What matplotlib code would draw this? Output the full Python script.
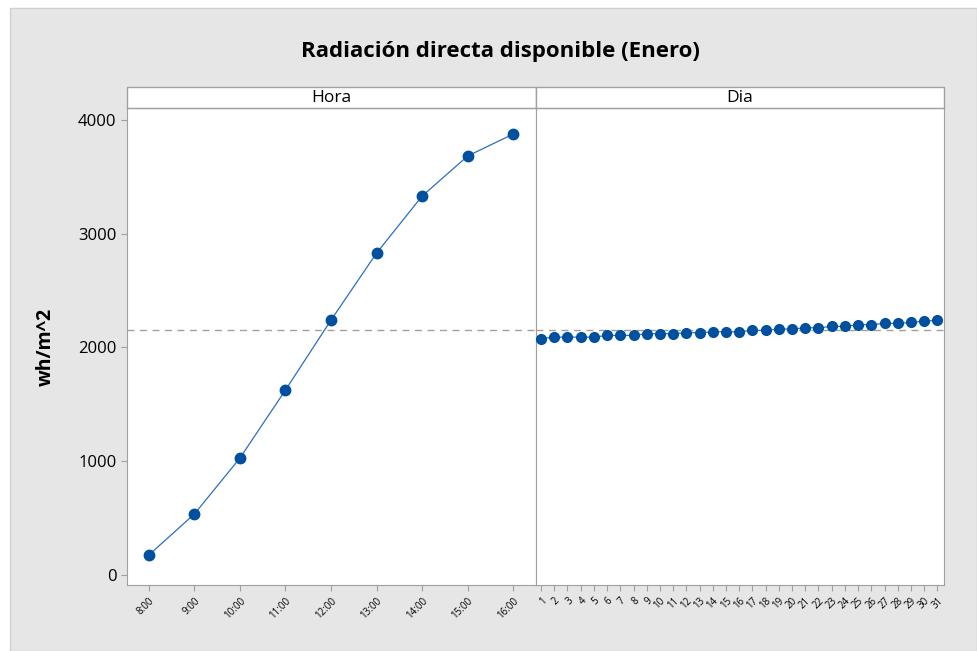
import numpy as np
import matplotlib.pyplot as plt
from matplotlib.patches import Rectangle

plt.rcParams['font.family'] = ['Open Sans', 'DejaVu Sans']

hours = ['8:00', '9:00', '10:00', '11:00', '12:00', '13:00', '14:00', '15:00', '16:00']
hora_vals = [176, 536, 1028, 1626, 2241, 2830, 3331, 3683, 3876]
days = [str(d) for d in range(1, 32)]
dia_vals = [2077, 2091, 2091, 2091, 2091, 2106, 2106, 2106, 2121, 2121, 2121,
            2130, 2130, 2138, 2138, 2138, 2150, 2150, 2162, 2162, 2173, 2173,
            2185, 2185, 2200, 2200, 2212, 2212, 2220, 2232, 2238]
grand_mean = 2153
yticks = [0, 1000, 2000, 3000, 4000]

blue = '#0050a0'
gray_bg = '#e6e6e6'
spine_c = '#a0a0a0'

W, H = 977, 651
fig = plt.figure(figsize=(W / 100, H / 100), dpi=100)
fig.patch.set_facecolor('white')
fig.patches.append(Rectangle((10 / W, 0), 1 - 10 / W, 1 - 8 / H, transform=fig.transFigure,
                             facecolor=gray_bg, edgecolor='#d0d0d0', lw=1, zorder=-10))

def px(x0, y0, x1, y1):
    return [x0 / W, 1 - y1 / H, (x1 - x0) / W, (y1 - y0) / H]

ax1 = fig.add_axes(px(127, 108, 536, 585))
ax2 = fig.add_axes(px(536, 108, 944, 585), sharey=ax1)

panels = [(ax1, hours, hora_vals, 'Hora', (0.52, 9.5), 7.5),
          (ax2, days, dia_vals, 'Dia', (0.62, 31.5), 7)]

for ax, labels, vals, name, xl, ms in panels:
    x = np.arange(1, len(labels) + 1)
    ax.plot(x, vals, '-', color='#2a6fc0', lw=0.9, zorder=2)
    ax.plot(x, vals, 'o', color=blue, ms=ms, zorder=3)
    ax.axhline(grand_mean, color='#a0a0a0', ls=(0, (5, 4)), lw=1, zorder=1)
    ax.set_xlim(*xl)
    ax.set_xticks(x)
    ax.set_xticklabels(labels, rotation=45, ha='right', rotation_mode='anchor', fontsize=7)
    for s in ax.spines.values():
        s.set_color(spine_c)
    ax.tick_params(colors=spine_c, labelcolor='black', length=4)
    # strip header
    ax.add_patch(Rectangle((0, 1), 1, 21 / 477, transform=ax.transAxes, clip_on=False,
                           facecolor='white', edgecolor=spine_c, lw=1))
    ax.text(0.5, 1 + 10.5 / 477, name, transform=ax.transAxes, ha='center', va='center',
            fontsize=12.5)

ax1.set_ylim(-88, 4105)
ax1.set_yticks(yticks)
ax1.tick_params(axis='y', labelsize=12)
ax2.tick_params(axis='y', left=False, labelleft=False)
ax1.set_ylabel('wh/m^2', fontsize=14, fontweight='bold', labelpad=16)

fig.text(500 / W, 1 - 52 / H, 'Radiación directa disponible (Enero)', ha='center', va='center',
         fontsize=16, fontweight='bold')

fig.savefig('out.png', dpi=100, facecolor=fig.get_facecolor())
